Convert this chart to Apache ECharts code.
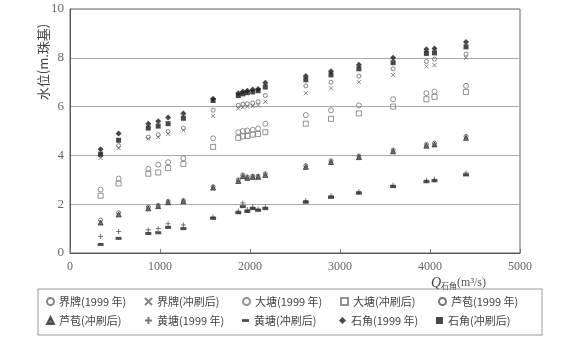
<!DOCTYPE html>
<html>
<head>
<meta charset="utf-8">
<script src="https://cdn.jsdelivr.net/npm/echarts@6/dist/echarts.min.js"></script>
<style>html,body{margin:0;padding:0;background:#fff;}#c{width:564px;height:339px;}</style>
</head>
<body>
<div id="c"></div>
<script>
// Discharge at 石角 (m3/s)
const Q = [340, 540, 870, 980, 1090, 1260, 1590, 1870, 1920, 1970, 2030, 2090, 2170, 2620, 2900, 3210, 3590, 3960, 4050, 4400];
const jiepai1999  = [4.0, 4.4, 4.75, 4.85, 4.98, 5.12, 5.85, 6.05, 6.1, 6.12, 6.15, 6.2, 6.45, 6.85, 7.0, 7.25, 7.55, 7.85, 7.95, 8.15];
const jiepaiAfter = [3.9, 4.3, 4.68, 4.75, 4.88, 5.03, 5.62, 5.92, 5.97, 6.0, 6.02, 6.05, 6.2, 6.55, 6.75, 7.0, 7.3, 7.65, 7.7, 8.0];
const datang1999  = [2.6, 3.05, 3.45, 3.62, 3.72, 3.88, 4.7, 4.95, 5.0, 5.02, 5.05, 5.1, 5.3, 5.65, 5.85, 6.05, 6.3, 6.55, 6.62, 6.85];
const datangAfter = [2.35, 2.85, 3.25, 3.3, 3.48, 3.65, 4.35, 4.72, 4.78, 4.8, 4.85, 4.88, 4.95, 5.3, 5.5, 5.72, 6.0, 6.3, 6.4, 6.6];
const lubao1999   = [1.35, 1.65, 1.88, 1.95, 2.12, 2.15, 2.72, 3.0, 3.2, 3.12, 3.15, 3.15, 3.25, 3.58, 3.78, 3.98, 4.22, 4.45, 4.5, 4.78];
const lubaoAfter  = [1.25, 1.58, 1.83, 1.92, 2.08, 2.12, 2.68, 2.95, 3.15, 3.08, 3.12, 3.12, 3.2, 3.53, 3.73, 3.93, 4.17, 4.4, 4.45, 4.72];
const huangtang1999  = [0.68, 0.88, 0.95, 1.0, 1.2, 1.15, 1.48, 1.72, 2.05, 1.78, 1.88, 1.8, 1.88, 2.15, 2.35, 2.52, 2.78, 2.98, 3.02, 3.28];
const huangtangAfter = [0.35, 0.6, 0.8, 0.83, 1.05, 1.0, 1.42, 1.65, 1.9, 1.7, 1.82, 1.75, 1.82, 2.08, 2.28, 2.45, 2.72, 2.92, 2.96, 3.2];
const shijiao1999  = [4.25, 4.9, 5.3, 5.4, 5.55, 5.72, 6.32, 6.55, 6.62, 6.65, 6.7, 6.72, 6.98, 7.25, 7.45, 7.72, 8.0, 8.35, 8.38, 8.65];
const shijiaoAfter = [4.05, 4.62, 5.12, 5.2, 5.3, 5.52, 6.25, 6.45, 6.52, 6.57, 6.6, 6.65, 6.8, 7.1, 7.3, 7.55, 7.8, 8.18, 8.2, 8.45];

const seriesNames = ['界牌(1999 年)', '界牌(冲刷后)', '大塘(1999 年)', '大塘(冲刷后)', '芦苞(1999 年)',
                     '芦苞(冲刷后)', '黄塘(1999 年)', '黄塘(冲刷后)', '石角(1999 年)', '石角(冲刷后)'];
const seriesValues = [jiepai1999, jiepaiAfter, datang1999, datangAfter, lubao1999,
                      lubaoAfter, huangtang1999, huangtangAfter, shijiao1999, shijiaoAfter];
const xTicks = [0, 1000, 2000, 3000, 4000, 5000];
const yTicks = [0, 2, 4, 6, 8, 10];

// marker styles
const CROSS = 'path://M0,0L10,10M10,0L0,10';
const PLUS = 'path://M5,0L5,10M0,5L10,5';
const DASH = 'path://M0,0L10,0L10,4L0,4Z';
const hollow = c => ({color: 'rgba(255,255,255,0)', borderColor: c, borderWidth: 1});
const styles = [
  {symbol: 'circle', size: 4, item: hollow('#666')},
  {symbol: CROSS, size: 4, item: hollow('#666')},
  {symbol: 'circle', size: 5, item: hollow('#777')},
  {symbol: 'rect', size: 5, item: hollow('#777')},
  {symbol: 'circle', size: 4, item: hollow('#555')},
  {symbol: 'triangle', size: 5, item: {color: '#555', borderColor: '#333', borderWidth: 1}},
  {symbol: PLUS, size: 5, item: hollow('#555')},
  {symbol: DASH, size: [6, 3], item: {color: '#222'}},
  {symbol: 'diamond', size: 6, item: {color: '#1a1a1a'}},
  {symbol: 'rect', size: 5, item: {color: '#1a1a1a'}}
];

const series = seriesNames.map((name, i) => ({
  name: name,
  type: 'scatter',
  symbol: styles[i].symbol,
  symbolSize: styles[i].size,
  itemStyle: styles[i].item,
  emphasis: {disabled: true},
  data: Q.map((q, j) => [q, seriesValues[i][j]])
}));

const chart = echarts.init(document.getElementById('c'), null, {renderer: 'canvas'});
const numFont = 'Liberation Serif, DejaVu Serif, serif';
const cjkFont = 'Noto Sans CJK SC';
chart.setOption({
  animation: false,
  backgroundColor: '#fff',
  grid: {left: 70, right: 44, top: 9, bottom: 86, show: true, borderColor: '#666', borderWidth: 1},
  xAxis: {
    type: 'value', min: xTicks[0], max: xTicks[xTicks.length - 1], interval: 1000,
    axisLine: {lineStyle: {color: '#555'}},
    axisTick: {inside: true, length: 4, lineStyle: {color: '#777'}},
    axisLabel: {color: '#666', fontFamily: numFont, fontSize: 12, margin: 8, formatter: v => String(v)},
    splitLine: {show: false}
  },
  yAxis: {
    type: 'value', min: yTicks[0], max: yTicks[yTicks.length - 1], interval: 2,
    axisLine: {show: true, lineStyle: {color: '#555'}},
    axisTick: {show: false},
    axisLabel: {color: '#666', fontFamily: numFont, fontSize: 13, margin: 6},
    splitLine: {lineStyle: {color: '#aaa', width: 1}}
  },
  legend: {
    data: seriesNames,
    left: 38, top: 289, width: 500,
    orient: 'horizontal',
    padding: [7, 14, 9, 8],
    itemGap: 8,
    itemWidth: 7, itemHeight: 7,
    borderColor: '#999', borderWidth: 1,
    formatter: '{a|{name}}',
    textStyle: {
      color: '#444', fontFamily: cjkFont, fontSize: 11,
      rich: {a: {width: 77, fontFamily: cjkFont, fontSize: 11, color: '#444', lineHeight: 15}}
    }
  },
  graphic: [
    {
      type: 'text', left: 431, top: 276,
      style: {
        text: '{q|Q}{s|石角}{n|(m³/s)}',
        rich: {
          q: {fontFamily: numFont, fontStyle: 'italic', fontSize: 14, fill: '#444'},
          s: {fontFamily: cjkFont, fontSize: 8, fill: '#444', padding: [6, 0, 0, 0]},
          n: {fontFamily: numFont, fontSize: 12, fill: '#555'}
        }
      }
    },
    {
      type: 'text', x: 43, y: 62, rotation: Math.PI / 2,
      style: {
        text: '水位(m.珠基)', fill: '#444', fontFamily: cjkFont, fontSize: 13,
        align: 'center', verticalAlign: 'middle'
      }
    }
  ],
  series: series
});
</script>
</body>
</html>
